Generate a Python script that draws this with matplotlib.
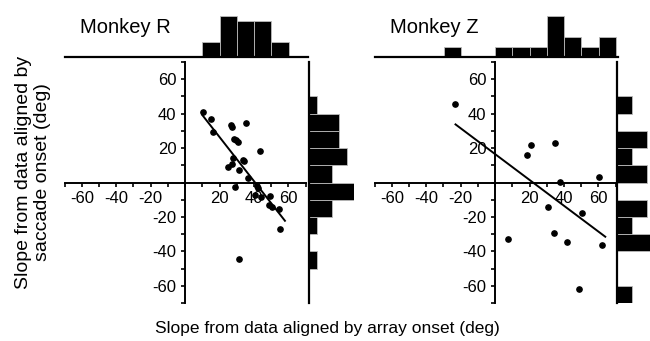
import numpy as np
import matplotlib
matplotlib.use('Agg')
import matplotlib.pyplot as plt

plt.rcParams['font.family'] = ['Liberation Sans', 'DejaVu Sans']
plt.rcParams['axes.unicode_minus'] = False

# Monkey R: slope aligned by array onset (x) vs by saccade onset (y)
r_x = [10.5, 15.3, 16.0, 26.6, 27.0, 35.4, 28.4, 29.7, 30.8, 43.7, 27.7, 33.7, 34.5, 27.3,
       24.8, 31.5, 36.6, 28.7, 41.5, 42.5, 40.7, 44.3, 49.2, 48.6, 50.6, 54.3, 55.0, 31.2]
r_y = [40.7, 36.8, 29.4, 33.2, 32.0, 34.3, 25.5, 24.6, 23.4, 18.1, 14.2, 13.3, 12.5, 11.0,
       8.8, 7.1, 2.4, -2.7, -1.8, -3.0, -7.2, -8.6, -7.8, -12.9, -14.5, -15.4, -27.0, -44.2]
r_fit = [-1.28, 52.0]      # slope, intercept
r_fit_x = [10, 58]

# Monkey Z
z_x = [-23.2, 18.4, 20.7, 34.8, 60.5, 37.7, 30.5, 50.3, 7.4, 34.2, 42.0, 62.3, 48.5]
z_y = [45.5, 16.1, 21.5, 23.0, 3.1, 0.3, -14.5, -17.6, -32.9, -29.6, -34.8, -36.4, -62.0]
z_fit = [-0.75, 16.5]
z_fit_x = [-23, 64]

labelled_ticks = [-60, -40, -20, 20, 40, 60]
bins = np.arange(-70, 71, 10)

W, H = 650, 341
fig = plt.figure(figsize=(6.5, 3.41), dpi=100)


def box(left, top, w, h):
    return [left / W, 1 - (top + h) / H, w / W, h / H]


def panel(x0, name, xs, ys, fit, fit_x, rh_left):
    # scatter with axes crossing at zero
    ax = fig.add_axes(box(x0, 62, 241, 241))
    ax.plot(xs, ys, 'o', color='black', ms=3.8)
    fx = np.array(fit_x)
    ax.plot(fx, fit[0] * fx + fit[1], color='black', lw=1.4)
    ax.set_xlim(-70, 70)
    ax.set_ylim(-70, 70)
    for s in ['top', 'right']:
        ax.spines[s].set_visible(False)
    for s in ['left', 'bottom']:
        ax.spines[s].set_position(('data', 0))
        ax.spines[s].set_linewidth(1.4)
    ax.set_xticks(bins)
    ax.set_yticks(bins)
    lab = [str(v) if v in labelled_ticks else '' for v in bins]
    ax.set_xticklabels(lab)
    ax.set_yticklabels(lab)
    ax.tick_params(direction='out', length=3.2, width=1.2, labelsize=12, pad=3)
    ax.patch.set_visible(False)

    # top histogram of x
    cx, _ = np.histogram(xs, bins)
    axt = fig.add_axes(box(x0, 16, 243, 41))
    keep = cx > 0
    axt.bar(bins[:-1][keep], cx[keep], width=10, align='edge', color='black',
            edgecolor='#bbbbbb', lw=0.6)
    axt.set_xlim(-70, 71)
    axt.set_ylim(0, cx.max())
    for s in ['top', 'right', 'left']:
        axt.spines[s].set_visible(False)
    axt.spines['bottom'].set_linewidth(1.6)
    axt.set_xticks([])
    axt.set_yticks([])
    axt.patch.set_visible(False)

    # right histogram of y
    cy, _ = np.histogram(ys, bins)
    axr = fig.add_axes(box(rh_left, 62, 45, 241))
    keep = cy > 0
    axr.barh(bins[:-1][keep], cy[keep], height=10, align='edge', color='black',
             edgecolor='#bbbbbb', lw=0.6)
    axr.set_ylim(-70, 70)
    axr.set_xlim(0, cy.max())
    for s in ['top', 'right', 'bottom']:
        axr.spines[s].set_visible(False)
    axr.spines['left'].set_linewidth(1.6)
    axr.set_xticks([])
    axr.set_yticks([])
    axr.patch.set_visible(False)

    fig.text((x0 + 15) / W, 1 - 33 / H, name, fontsize=14.5, ha='left', va='baseline')


panel(64.6, 'Monkey R', r_x, r_y, r_fit, r_fit_x, 309)
panel(374.6, 'Monkey Z', z_x, z_y, z_fit, z_fit_x, 616.5)

fig.text(327 / W, 1 - 328 / H, 'Slope from data aligned by array onset (deg)',
         fontsize=12.5, ha='center', va='center')
fig.text(33 / W, 1 - 172 / H, 'Slope from data aligned by\nsaccade onset (deg)',
         fontsize=14, ha='center', va='center', rotation=90, linespacing=1.1)

fig.savefig('out.png', dpi=100)
